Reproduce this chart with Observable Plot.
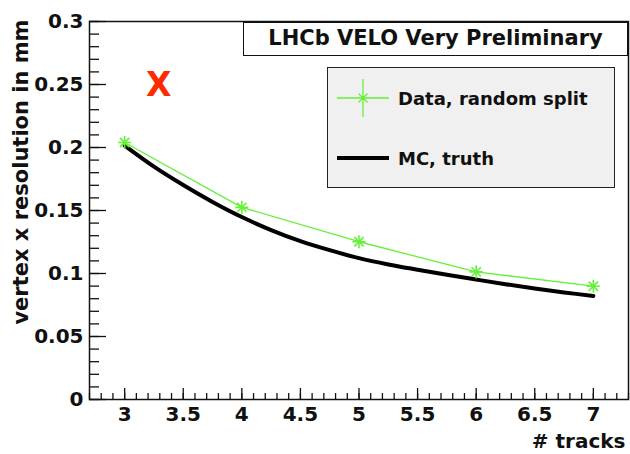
<!DOCTYPE html>
<html>
<head>
<meta charset="utf-8">
<script src="https://cdn.jsdelivr.net/npm/d3@7"></script>
<script src="https://cdn.jsdelivr.net/npm/@observablehq/plot@0.6"></script>
<style>
  html, body { margin: 0; padding: 0; background: #fff; }
  #wrap { position: relative; width: 630px; height: 454px; font-family: "DejaVu Sans", sans-serif; font-weight: bold; }
  .box { position: absolute; box-sizing: border-box; }
  #title { left: 243px; top: 22px; width: 385px; height: 34px; border: 1.5px solid #111; background: #fff;
           font-size: 21px; line-height: 31px; text-align: center; color: #111; }
  #legend { left: 327px; top: 67px; width: 288px; height: 121px; border: 1.5px solid #222; background: #f0f0f0; }
  .entry { position: absolute; left: 9px; height: 40px; display: flex; align-items: center; font-size: 18px; color: #111; }
  .entry svg { margin-right: 9px; }
  #mark { left: 146px; top: 65px; font-size: 33px; color: #ff2a00; }
</style>
</head>
<body>
<div id="wrap"></div>
<script>
// Data
const tracks = [3, 4, 5, 6, 7];
const dataRes = [0.204, 0.1525, 0.1252, 0.1013, 0.0899];

const mcTracks = [3, 3.25, 3.5, 3.75, 4, 4.25, 4.5, 4.75, 5, 5.25, 5.5, 5.75, 6, 6.25, 6.5, 6.75, 7];
const mcRes = [0.2015, 0.1848, 0.1702, 0.1568, 0.1448, 0.1345, 0.1257, 0.1185, 0.1122, 0.1072, 0.1030, 0.0990, 0.0952, 0.0915, 0.0881, 0.0850, 0.0822];

const yMajor = [0, 0.05, 0.1, 0.15, 0.2, 0.25, 0.3];
const yMinor = d3.range(0, 31).map(i => i / 100);
const xMajor = [3, 3.5, 4, 4.5, 5, 5.5, 6, 6.5, 7];
const xMinor = d3.range(27, 74).map(i => i / 10);

const seriesLabels = ["Data, random split", "MC, truth"];
const titleText = "LHCb VELO Very Preliminary";
const xLabel = "# tracks";
const yLabel = "vertex x resolution in mm";

const dataTable = tracks.map((t, i) => ({t, r: dataRes[i]}));
const mcTable = mcTracks.map((t, i) => ({t, r: mcRes[i]}));

const green = "#66f03a";
const W = 630, H = 454, mL = 89, mR = 2, mT = 21, mB = 55;
const fw = W - mL - mR, fh = H - mT - mB;

const chart = Plot.plot({
  width: W, height: H,
  marginLeft: mL, marginRight: mR, marginTop: mT, marginBottom: mB,
  style: {font: "bold 20px 'DejaVu Sans', sans-serif", color: "#111", background: "#fff"},
  x: {domain: [2.7, 7.3]},
  y: {domain: [0, 0.3]},
  marks: [
    // inner ticks (ROOT style)
    Plot.tickY(yMinor, {y: d => d, stroke: "#111", strokeWidth: 1.3, insetRight: fw - 10}),
    Plot.tickY(yMajor, {y: d => d, stroke: "#111", strokeWidth: 1.3, insetRight: fw - 17}),
    Plot.tickX(xMinor, {x: d => d, stroke: "#111", strokeWidth: 1.3, insetTop: fh - 6}),
    Plot.tickX(xMajor, {x: d => d, stroke: "#111", strokeWidth: 1.3, insetTop: fh - 11}),
    Plot.axisY({ticks: yMajor, tickSize: 0, tickPadding: 6, tickFormat: d => String(+d.toFixed(2)), label: null}),
    Plot.axisX({ticks: xMajor, tickSize: 0, tickPadding: 7, tickFormat: d => String(d), label: null}),
    Plot.text([yLabel], {frameAnchor: "top-left", rotate: -90, textAnchor: "end", dx: -76, dy: -2, fontSize: 21}),
    Plot.text([xLabel], {frameAnchor: "bottom-right", textAnchor: "end", lineAnchor: "bottom", dx: -3, dy: 48, fontSize: 20}),
    // MC truth
    Plot.line(mcTable, {x: "t", y: "r", stroke: "#000", strokeWidth: 4, curve: "catmull-rom"}),
    // Data
    Plot.line(dataTable, {x: "t", y: "r", stroke: green, strokeWidth: 1.3}),
    Plot.dot(dataTable, {x: "t", y: "r", symbol: "plus", r: 4.3, stroke: green, strokeWidth: 1.6}),
    Plot.dot(dataTable, {x: "t", y: "r", symbol: "times", r: 4.3, stroke: green, strokeWidth: 1.6}),
    Plot.frame({stroke: "#111", strokeWidth: 1.5})
  ]
});

const wrap = document.getElementById("wrap");
wrap.appendChild(chart);

const title = document.createElement("div");
title.className = "box"; title.id = "title"; title.textContent = titleText;
wrap.appendChild(title);

const mark = document.createElement("div");
mark.className = "box"; mark.id = "mark"; mark.textContent = "X";
wrap.appendChild(mark);

const legend = document.createElement("div");
legend.className = "box"; legend.id = "legend";
legend.innerHTML = `
  <div class="entry" style="top:10px">
    <svg width="52" height="40" viewBox="0 0 52 40">
      <line x1="0" y1="20" x2="52" y2="20" stroke="${green}" stroke-width="1.3"/>
      <line x1="26" y1="1" x2="26" y2="39" stroke="${green}" stroke-width="1.3"/>
      <line x1="21.5" y1="15.5" x2="30.5" y2="24.5" stroke="${green}" stroke-width="1.3"/>
      <line x1="30.5" y1="15.5" x2="21.5" y2="24.5" stroke="${green}" stroke-width="1.3"/>
      <circle cx="26" cy="20" r="2" fill="${green}"/>
    </svg><span>${seriesLabels[0]}</span></div>
  <div class="entry" style="top:70px">
    <svg width="52" height="40" viewBox="0 0 52 40">
      <line x1="0" y1="20" x2="52" y2="20" stroke="#000" stroke-width="4"/>
    </svg><span>${seriesLabels[1]}</span></div>`;
wrap.appendChild(legend);
</script>
</body>
</html>
